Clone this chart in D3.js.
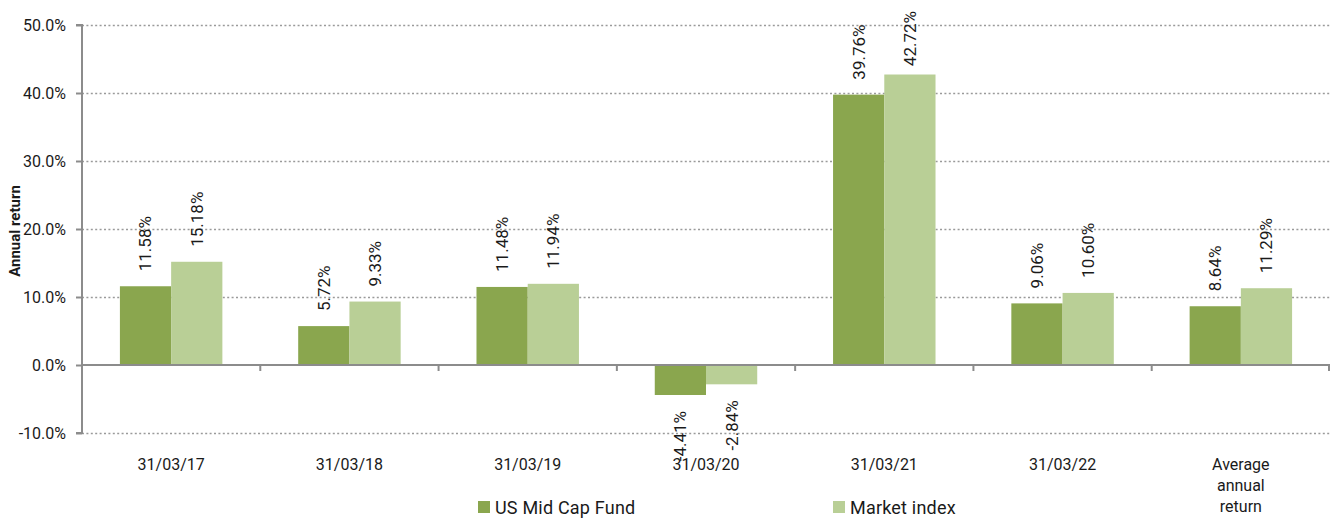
<!DOCTYPE html>
<html><head><meta charset="utf-8">
<script src="https://cdn.jsdelivr.net/npm/d3@7"></script>
<style>
body{margin:0;background:#fff;}
text{font-family:Roboto,"Noto Sans",sans-serif;fill:#1a1a1a;}
</style></head>
<body>
<svg id="chart" width="1330" height="519"></svg>
<script>
const categories = [["31/03/17"],["31/03/18"],["31/03/19"],["31/03/20"],["31/03/21"],["31/03/22"],["Average","annual","return"]];
const seriesNames = ["US Mid Cap Fund","Market index"];
const fundValues = [11.58, 5.72, 11.48, -4.41, 39.76, 9.06, 8.64];
const indexValues = [15.18, 9.33, 11.94, -2.84, 42.72, 10.60, 11.29];
const yTicks = [-10, 0, 10, 20, 30, 40, 50];
const colors = ["#8aa64e", "#b9cf96"];

const svg = d3.select("#chart");
const margin = {left: 82, right: 0, top: 25, bottom: 86};
const W = 1330, H = 519;
const hyph = s => s.replace("\u2212", "-");
const catKeys = categories.map(c => c.join(" "));
const x0 = d3.scaleBand().domain(catKeys).range([margin.left, W - margin.right]).paddingInner(0).paddingOuter(0);
const x1 = d3.scaleBand().domain(seriesNames).range([0, x0.bandwidth()]).paddingInner(0).paddingOuter(0.74);
const y = d3.scaleLinear().domain([-10, 50]).range([H - margin.bottom, margin.top]);

// gridlines
svg.append("g").selectAll("line").data(yTicks.filter(t => t !== 0)).join("line")
  .attr("x1", margin.left).attr("x2", W)
  .attr("y1", d => Math.round(y(d)) + 0.5).attr("y2", d => Math.round(y(d)) + 0.5)
  .attr("stroke", "#9a9a9a").attr("stroke-width", 1.6).attr("stroke-dasharray", "2,2.4");

// bars
const data = [];
catKeys.forEach((c, i) => {
  data.push({c, s: seriesNames[0], v: fundValues[i], col: colors[0]});
  data.push({c, s: seriesNames[1], v: indexValues[i], col: colors[1]});
});
svg.append("g").selectAll("rect").data(data).join("rect")
  .attr("x", d => x0(d.c) + x1(d.s))
  .attr("width", x1.bandwidth())
  .attr("y", d => y(Math.max(0, d.v)))
  .attr("height", d => Math.abs(y(d.v) - y(0)))
  .attr("fill", d => d.col);

// y axis
const yAxis = d3.axisLeft(y).tickValues(yTicks).tickSize(6).tickFormat(d => hyph(d3.format(".1f")(d)) + "%");
const ya = svg.append("g").attr("transform", `translate(${margin.left},0)`).call(yAxis);
ya.select(".domain").attr("stroke", "#8c8c8c").attr("stroke-width", 2).attr("d", `M-6,${y(50)}H0V${y(-10)}H-6`);
ya.selectAll(".tick line").attr("stroke", "#8c8c8c").attr("stroke-width", 2);
ya.selectAll(".tick text").attr("x", -16).style("font-size", "16px").style("font-family", "Roboto").attr("fill", "#1a1a1a");

// x axis at zero
const boundaries = catKeys.map(c => x0(c)).concat([W - 1]);
svg.append("line").attr("x1", margin.left).attr("x2", W).attr("y1", y(0)).attr("y2", y(0))
  .attr("stroke", "#8c8c8c").attr("stroke-width", 2);
svg.append("g").selectAll("line").data(boundaries.slice(1)).join("line")
  .attr("x1", d => d).attr("x2", d => d).attr("y1", y(0)).attr("y2", y(0) + 6)
  .attr("stroke", "#8c8c8c").attr("stroke-width", 2);

// category labels
const cl = svg.append("g").selectAll("text").data(categories).join("text")
  .attr("text-anchor", "middle").style("font-size", "16px")
  .attr("transform", (d, i) => `translate(${x0(catKeys[i]) + x0.bandwidth() / 2},470)`);
cl.selectAll("tspan").data(d => d).join("tspan").attr("x", 0).attr("dy", (d, i) => i === 0 ? 0 : 21).text(d => d);

// value labels
svg.append("g").selectAll("text").data(data).join("text")
  .style("font-size", "17px")
  .attr("text-anchor", d => d.v >= 0 ? "start" : "end")
  .attr("dy", "0.35em")
  .text(d => hyph(d3.format(".2f")(d.v)) + "%")
  .attr("transform", function(d) {
    const cx = x0(d.c) + x1(d.s) + x1.bandwidth() / 2;
    let yy = d.v >= 0 ? y(d.v) - 15 : y(d.v) + 16;
    if (d.v >= 0) {
      const len = this.getComputedTextLength();
      if (yy - len < 11) yy = 11 + len;
    }
    return `translate(${cx},${yy}) rotate(-90)`;
  });

// y title
svg.append("text").attr("transform", `translate(20,${(y(50) + y(-10)) / 2 + 2}) rotate(-90)`)
  .attr("text-anchor", "middle").style("font-size", "15px").style("font-weight", "bold").text("Annual return");

// legend
const legendX = [478, 833];
const lg = svg.append("g").selectAll("g").data(seriesNames).join("g")
  .attr("transform", (d, i) => `translate(${legendX[i]},501)`);
lg.append("rect").attr("width", 12).attr("height", 12).attr("fill", (d, i) => colors[i]);
lg.append("text").attr("x", 17).attr("y", 13).style("font-size", "18px").style("letter-spacing", "0.2px").text(d => d);
</script>
</body></html>
